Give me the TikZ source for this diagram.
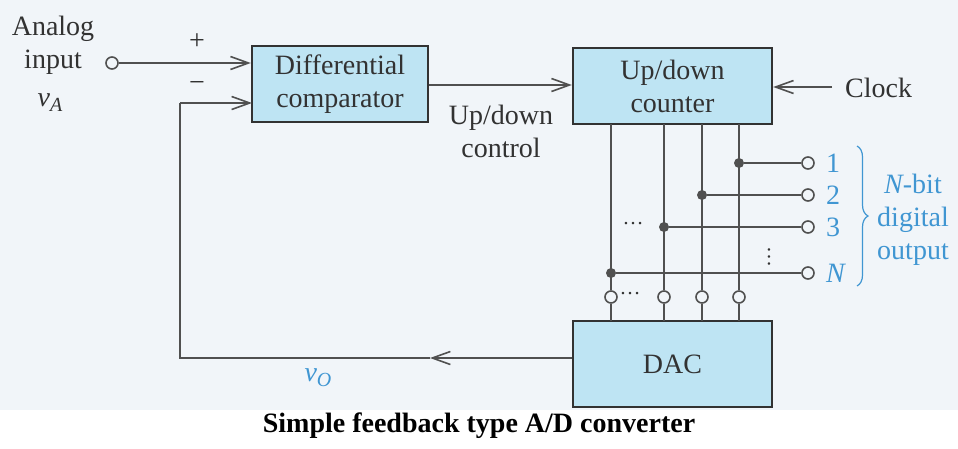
\documentclass[tikz,border=0pt]{standalone}
\usepackage{fontspec}
\setmainfont{Liberation Serif}
\usetikzlibrary{arrows.meta,decorations.pathreplacing}
\definecolor{bgc}{RGB}{241,245,249}
\definecolor{boxc}{RGB}{190,228,243}
\definecolor{wirec}{RGB}{80,80,80}
\definecolor{txtc}{RGB}{50,50,50}
\definecolor{bluec}{RGB}{64,150,210}
\begin{document}
\begin{tikzpicture}[x=1pt,y=-1pt,
  font=\fontsize{28}{33}\selectfont,
  blk/.style={draw=txtc,line width=2.4pt,fill=boxc,text=txtc,align=center,inner sep=0pt},
  wire/.style={draw=wirec,line width=1.6pt},
  arr/.style={wire,-{Straight Barb[length=18pt,width=13pt,line width=1.6pt]}},
  term/.style={circle,draw=wirec,line width=1.6pt,fill=bgc,minimum size=12pt,inner sep=0pt},
  junc/.style={circle,fill=wirec,minimum size=10pt,inner sep=0pt},
  lbl/.style={text=txtc,inner sep=0pt,align=center},
  blbl/.style={text=bluec,inner sep=0pt,align=center},
  dotsl/.style={text=txtc,inner sep=0pt,font=\fontsize{21}{21}\selectfont}]
\useasboundingbox (0,0) rectangle (958,448);
\fill[bgc] (0,0) rectangle (958,410);
\fill[white] (0,410) rectangle (958,448);

% blocks
\node[blk,minimum width=176pt,minimum height=76pt] (cmp) at (340,84) {Differential\\comparator};
\node[blk,minimum width=199pt,minimum height=76pt] (cnt) at (672.5,86) {Up/down\\counter};
\node[blk,minimum width=199pt,minimum height=86pt] (dac) at (672.5,364) {DAC};

% input
\node[lbl] (ana) at (53,45) {Analog\\input};
\node[lbl] (va) at (50,103) {\itshape v\raisebox{-5pt}{\fontsize{20}{20}\selectfont A}};
\node[term] (in) at (112,63) {};
\coordinate (plusin) at (cmp.west |- in);
\draw[arr] (in) -- (plusin);
\node[lbl] (plus) at (197,42) {+};
\node[lbl] (minus) at (197,86) {\textminus};

% feedback
\coordinate (fb) at (180,358);
\coordinate (fbarr) at (430,358);
\coordinate (minin) at (252,103);
\draw[arr] (dac.west |- fb) -- (fbarr);
\draw[wire] (fbarr) -- (fb) -- (fb |- minin);
\draw[arr] (fb |- minin) -- (minin);
\node[blbl] (vo) at (318,378) {\itshape v\raisebox{-5pt}{\fontsize{20}{20}\selectfont O}};

% comparator -> counter
\draw[arr] (cmp.east |- 0,85) -- (cnt.west |- 0,85);
\node[lbl] (udc) at (501,131) {Up/down\\control};

% clock
\node[lbl,anchor=west] (clk) at (845,88) {Clock};
\coordinate (clkin) at (832,87);
\draw[arr] (clkin) -- (cnt.east |- clkin);

% bit lines
\foreach \i/\x/\y in {4/739/163, 3/702/195, 2/664/227, 1/611/273}{
  \coordinate (top\i) at (\x,124);
  \node[junc] (j\i) at (\x,\y) {};
  \node[term] (o\i) at (808,\y) {};
  \node[term] (d\i) at (\x,297) {};
  \draw[wire] (top\i) -- (d\i.north);
  \draw[wire] (d\i.south) -- (\x,321);
  \draw[wire] (j\i) -- (o\i);
}
\node[blbl,anchor=west] (n1) at (826,163) {1};
\node[blbl,anchor=west] (n2) at (826,195) {2};
\node[blbl,anchor=west] (n3) at (826,227) {3};
\node[blbl,anchor=west] (nN) at (826,273) {\itshape N};

\node[dotsl] (hd1) at (633,224) {…};
\node[dotsl] (hd2) at (630,294) {…};
\node[dotsl,rotate=-90] (vd) at (769,257) {…};

% brace
\draw[bluec,line width=1.2pt,decorate,decoration={brace,amplitude=11pt}] (857,146) -- (857,286);
\node[blbl] (nbit) at (913,220) {{\itshape N}-bit\\digital\\output};

% caption
\node[inner sep=0pt,font=\fontsize{28}{33}\selectfont\bfseries] (cap) at (479,426) {Simple feedback type A/D converter};
\end{tikzpicture}
\end{document}
